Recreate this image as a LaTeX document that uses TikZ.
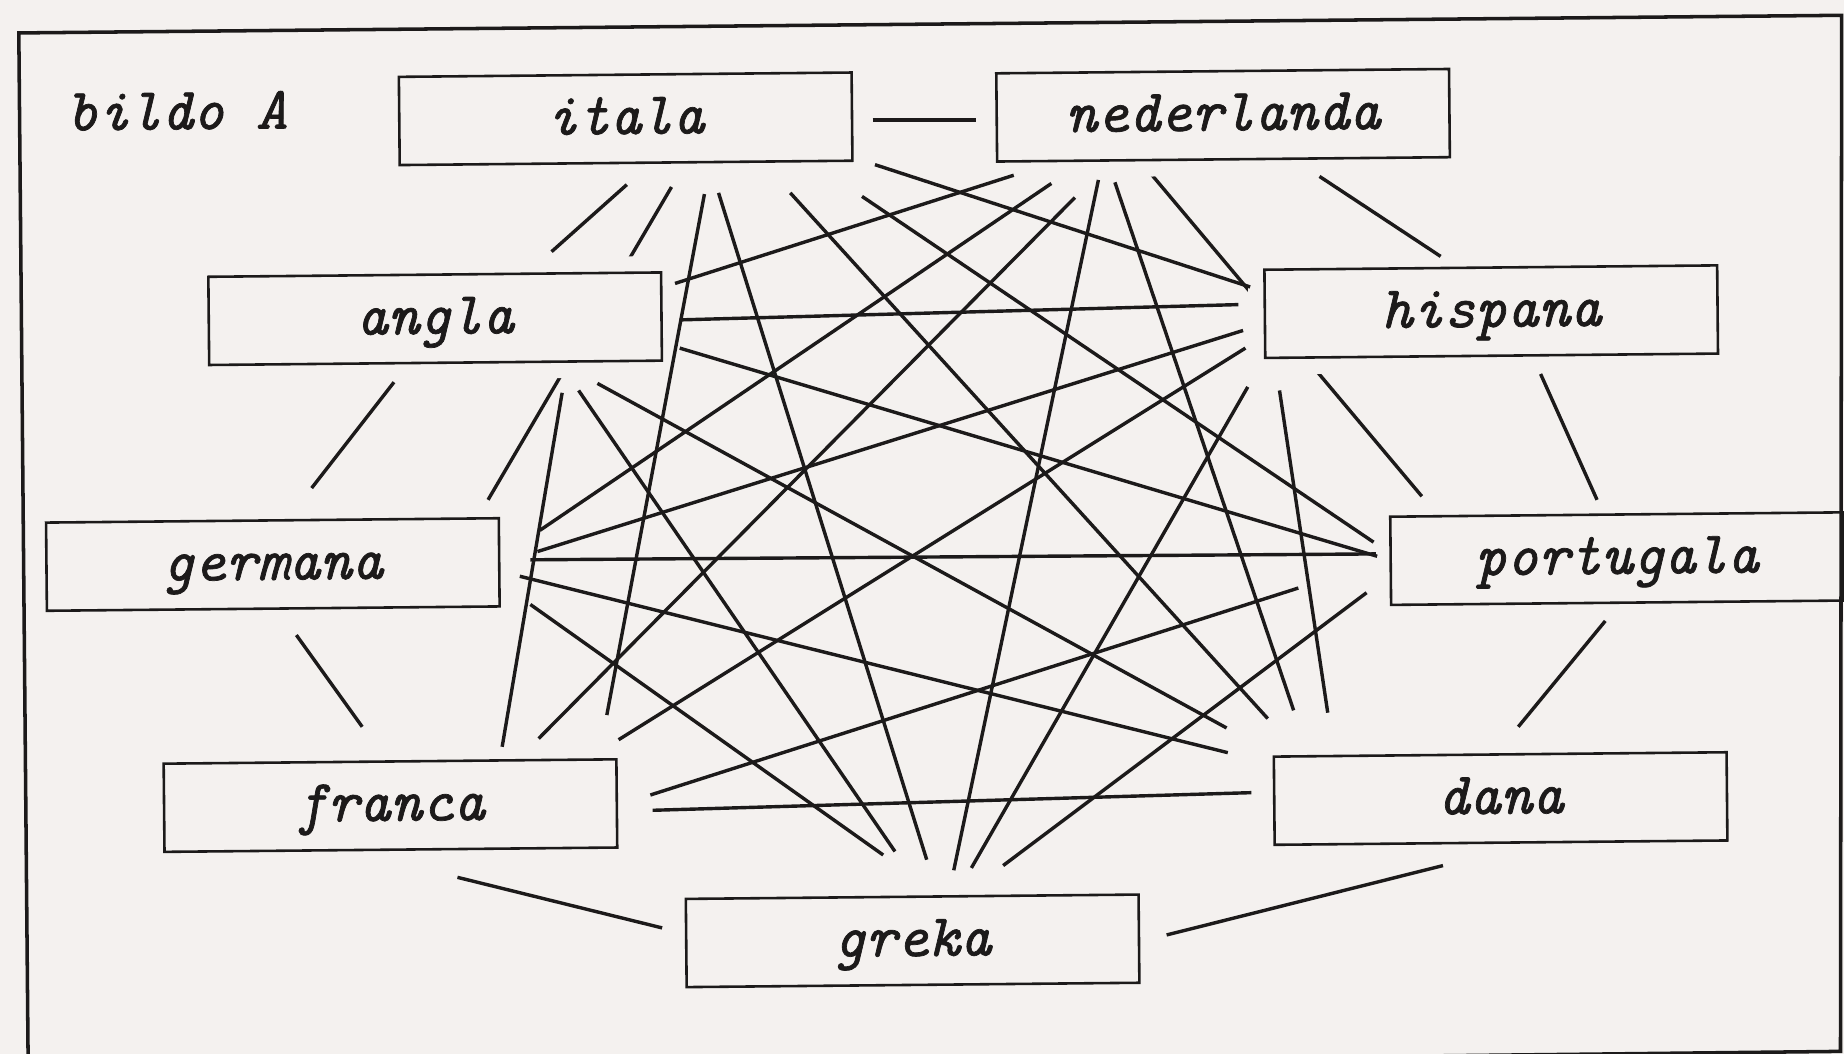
\documentclass[tikz,border=0pt]{standalone}
\usepackage{fontspec}
\newfontfamily\labelfont{lmmono10-italic.otf}[FakeBold=1.2]
\usetikzlibrary{backgrounds}
\definecolor{paper}{RGB}{244,241,239}
\definecolor{ink}{RGB}{28,26,26}

\begin{document}
\begin{tikzpicture}[x=0.5pt,y=-0.5pt,
 every node/.style={font=\fontsize{25.5}{30}\labelfont,text=ink},
 lang/.style={draw=ink,line width=1.1pt,fill=paper,rotate=0.55,inner sep=0pt,
  minimum width=192.5pt,minimum height=37.5pt,text height=16pt,text depth=3pt,
  preaction={draw=paper,line width=14pt}},
 link/.style={draw=ink,line width=1.45pt},
 frame/.style={draw=ink,line width=1.5pt}]
\useasboundingbox (0,0) rectangle (1568,896);

\node[anchor=base west,rotate=0.55] (title) at (50,111) {bildo A};
\node[lang] (itala) at (532,101) {itala};
\node[lang] (nederlanda) at (1040,98) {nederlanda};
\node[lang] (angla) at (370,271) {angla};
\node[lang] (hispana) at (1268,265) {hispana};
\node[lang] (germana) at (232,480) {germana};
\node[lang] (portugala) at (1375,475) {portugala};
\node[lang] (franca) at (332,685) {franca};
\node[lang] (dana) at (1276,679) {dana};
\node[lang] (greka) at (776,800) {greka};

% paper, and the two lines that run behind angla and hispana
\begin{scope}[on background layer]
\fill[paper] (0,0) rectangle (1568,896);
\draw[link] ([shift={(39,58)}]itala.center) -- ([shift={(183,-55)}]germana.center);
\draw[link] ([shift={(-62,49)}]nederlanda.center) -- ([shift={(-166,-53)}]portugala.center);
\end{scope}

% every other pair
\foreach \a/\ax/\ay/\b/\bx/\by in {
 itala/210/1/nederlanda/-210/4, itala/1/56/angla/99/-57,
 itala/67/64/franca/184/-77, itala/79/63/greka/12/-69,
 itala/140/63/dana/-198/-68, itala/201/66/portugala/-207/-14,
 itala/212/39/hispana/-205/-21,
 nederlanda/82/52/hispana/-43/-47, nederlanda/-92/57/dana/-176/-75,
 nederlanda/-106/55/greka/35/-60, nederlanda/-126/70/franca/126/-57,
 nederlanda/-146/58/germana/227/-29, nederlanda/-178/51/angla/204/-30,
 angla/208/1/hispana/-215/-6, angla/208/25/portugala/-204/-2,
 angla/138/55/dana/-233/-60, angla/122/61/greka/-15/-76,
 angla/108/63/franca/95/-50, angla/-35/54/germana/33/-65,
 hispana/-211/16/germana/225/-11, hispana/-209/31/franca/194/-56,
 hispana/-207/64/greka/50/-62, hispana/-180/67/dana/-147/-73,
 hispana/42/53/portugala/-17/-50,
 germana/219/-4/portugala/-205/-4, germana/210/10/dana/-232/-39,
 germana/219/34/greka/-25/-73, germana/20/60/franca/-24/-67,
 portugala/-271/25/franca/221/-9, portugala/-213/29/greka/77/-64,
 portugala/-10/53/dana/15/-61,
 franca/223/4/dana/-212/-5, franca/57/61/greka/-213/-11,
 dana/-49/57/greka/216/-5}
 \draw[link] ([shift={(\ax,\ay)}]\a.center) -- ([shift={(\bx,\by)}]\b.center);

\begin{scope}
\clip (0,0) rectangle (1568,896);
\draw[frame] (16,28) -- (1566,13) -- (1565,894) -- (24,911) -- cycle;
\end{scope}
\end{tikzpicture}
\end{document}
